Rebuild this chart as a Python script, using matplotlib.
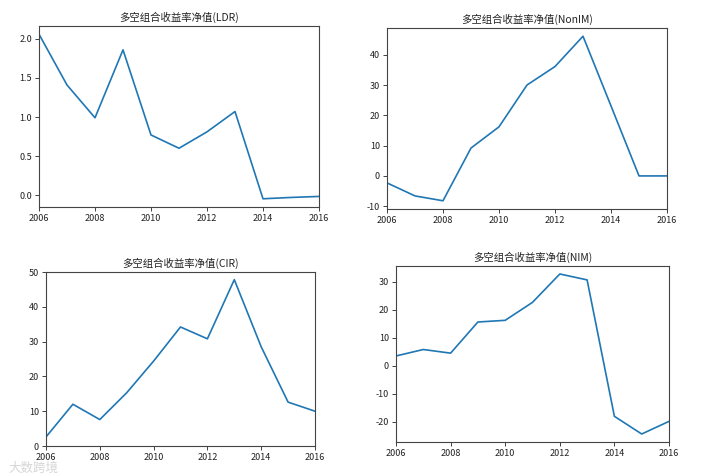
import matplotlib.pyplot as plt

plt.rcParams['font.family'] = ['Noto Sans CJK SC', 'DejaVu Sans']
plt.rcParams['axes.unicode_minus'] = False

years = list(range(2006, 2017))

ldr = [2.06, 1.41, 0.99, 1.86, 0.77, 0.60, 0.81, 1.07, -0.047, -0.03, -0.017]
nonim = [-2.3, -6.6, -8.2, 9.2, 16.2, 30.0, 36.1, 46.1, 23.1, 0.0, 0.0]
cir = [2.6, 12.0, 7.6, 15.3, 24.4, 34.2, 30.8, 47.8, 28.5, 12.6, 10.0]
nim = [3.5, 5.8, 4.5, 15.6, 16.2, 22.6, 32.7, 30.6, -18.0, -24.3, -19.8]

titles = ['多空组合收益率净值(LDR)', '多空组合收益率净值(NonIM)',
          '多空组合收益率净值(CIR)', '多空组合收益率净值(NIM)']
series = [ldr, nonim, cir, nim]

# each panel was a separate figure, so positions don't line up exactly
W, H = 706, 474
boxes = [(39, 26, 319, 207), (387, 28, 667, 209),
         (46, 272, 315, 446), (396, 266, 669, 442)]

fig = plt.figure(figsize=(W / 100, H / 100), dpi=100)

for (l, t, r, b), title, vals in zip(boxes, titles, series):
    ax = fig.add_axes([l / W, 1 - b / H, (r - l) / W, (b - t) / H])
    ax.plot(years, vals, color='#1f77b4', linewidth=1.2)
    ax.set_xlim(2006, 2016)
    ax.set_xticks(range(2006, 2017, 2))
    ax.set_title(title, fontsize=7.5, pad=4, color='#222222')
    ax.tick_params(labelsize=6.5, length=3, width=0.6, pad=2, colors='#222222')
    for s in ax.spines.values():
        s.set_linewidth(0.8)
        s.set_color('#444444')
    if title.endswith('(CIR)'):
        ax.set_ylim(0, 50)

# faint watermark bottom-left
fig.text(0.012, 0.004, '大数跨境', fontsize=9, color='#bbbbbb', alpha=0.6)

fig.savefig('out.png', dpi=100)
